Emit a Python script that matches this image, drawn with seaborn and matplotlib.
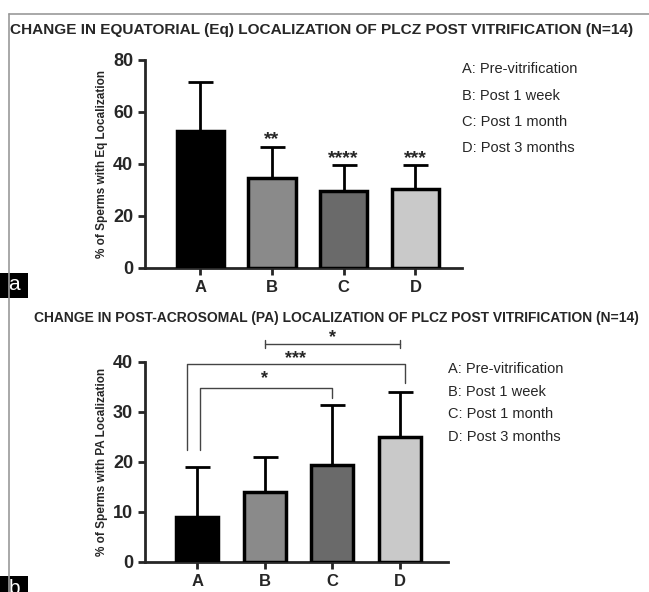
import numpy as np
import pandas as pd
import matplotlib
matplotlib.use("Agg")
import matplotlib.pyplot as plt
from matplotlib.lines import Line2D
from matplotlib.patches import Rectangle
import seaborn as sns

groups = ["A", "B", "C", "D"]
legend_labels = ["A: Pre-vitrification", "B: Post 1 week", "C: Post 1 month", "D: Post 3 months"]
bar_colors = ["#000000", "#8a8a8a", "#6a6a6a", "#c9c9c9"]

eq_mean = [52.5, 34.5, 29.5, 30.5]
eq_sd = [19.0, 12.0, 10.0, 9.0]
eq_stars = ["", "**", "****", "***"]

pa_mean = [9.0, 14.0, 19.5, 25.0]
pa_sd = [10.0, 7.0, 12.0, 9.0]

sns.set_style("ticks")
plt.rcParams["font.family"] = ["Liberation Sans", "DejaVu Sans"]

fig = plt.figure(figsize=(6.49, 5.92), dpi=100)
W, H = 649, 592


def px_axes(left, top, right, bottom):
    return fig.add_axes([left / W, 1 - bottom / H, (right - left) / W, (bottom - top) / H])


def draw_bars(ax, means, sds, ylab, ymax, step, xlim, width):
    df = pd.DataFrame({"group": groups, "value": means})
    sns.barplot(data=df, x="group", y="value", hue="group", palette=bar_colors,
                width=width, errorbar=None, legend=False, ax=ax,
                edgecolor="black", linewidth=2.5, zorder=3)
    ax.errorbar(range(len(groups)), means, yerr=[np.zeros(len(sds)), sds],
                fmt="none", ecolor="black", elinewidth=2, capsize=9, capthick=2, zorder=2)
    ax.set_xlim(*xlim)
    ax.set_ylim(0, ymax)
    ax.set_yticks(np.arange(0, ymax + 1, step))
    sns.despine(ax=ax)
    for s in ["left", "bottom"]:
        ax.spines[s].set_linewidth(2)
    ax.tick_params(width=2, length=5)
    ax.set_xlabel("")
    ax.set_ylabel(ylab, fontsize=8.5, fontweight="bold")
    for t in ax.get_yticklabels():
        t.set_fontsize(13)
        t.set_fontweight("bold")
    for t in ax.get_xticklabels():
        t.set_fontsize(12)
        t.set_fontweight("bold")


# panel a
ax1 = px_axes(145, 60, 462, 268)
draw_bars(ax1, eq_mean, eq_sd, "% of Sperms with Eq Localization", 80, 20, (-0.77, 3.65), 0.66)
for i, s in enumerate(eq_stars):
    if s:
        ax1.text(i, eq_mean[i] + eq_sd[i] - 0.5, s, ha="center", va="bottom",
                 fontsize=14, fontweight="bold")
fig.text(10 / W, 1 - 30 / H, "CHANGE IN EQUATORIAL (Eq) LOCALIZATION OF PLCZ POST VITRIFICATION (N=14)",
         fontsize=11.1, fontweight="bold", va="center", ha="left")
for k, lab in enumerate(legend_labels):
    fig.text(462 / W, 1 - (69 + 26.5 * k) / H, lab, fontsize=10.5, va="center", ha="left")

# panel b
ax2 = px_axes(145, 362, 448, 562)
draw_bars(ax2, pa_mean, pa_sd, "% of Sperms with PA Localization", 40, 10, (-0.77, 3.71), 0.62)
br = dict(color="#444444", linewidth=1, clip_on=False)
# A vs C
ax2.plot([0.05, 0.05, 2, 2], [22.4, 34.8, 34.8, 32.8], **br)
ax2.text(1.0, 34.9, "*", ha="center", va="bottom", fontsize=13, fontweight="bold")
# A vs D
ax2.plot([-0.15, -0.15, 3.07, 3.07], [22.4, 39.6, 39.6, 35.8], **br)
ax2.text(1.46, 38.9, "***", ha="center", va="bottom", fontsize=13, fontweight="bold")
# B vs D
ax2.plot([1, 3], [43.6, 43.6], **br)
ax2.plot([1, 1], [42.8, 44.4], **br)
ax2.plot([3, 3], [42.8, 44.4], **br)
ax2.text(2.0, 43.1, "*", ha="center", va="bottom", fontsize=13, fontweight="bold")
fig.text(34 / W, 1 - 318 / H, "CHANGE IN POST-ACROSOMAL (PA) LOCALIZATION OF PLCZ POST VITRIFICATION (N=14)",
         fontsize=10.0, fontweight="bold", va="center", ha="left")
for k, lab in enumerate(legend_labels):
    fig.text(448 / W, 1 - (369 + 22.7 * k) / H, lab, fontsize=10.5, va="center", ha="left")

# frame lines and panel tags
fig.add_artist(Line2D([9 / W, 9 / W], [0, 1 - 14 / H], color="#999999", linewidth=1.2))
fig.add_artist(Line2D([9 / W, 1], [1 - 14 / H, 1 - 14 / H], color="#999999", linewidth=1.2))
for tag, y0, y1 in [("a", 273, 298), ("b", 576, 600)]:
    fig.add_artist(Rectangle((0, 1 - y1 / H), 28 / W, (y1 - y0) / H, transform=fig.transFigure,
                             facecolor="black", edgecolor="none"))
    fig.text(14 / W, 1 - (y0 + 12) / H, tag, color="white", fontsize=15, ha="center", va="center")

fig.savefig("out.png", dpi=100)
